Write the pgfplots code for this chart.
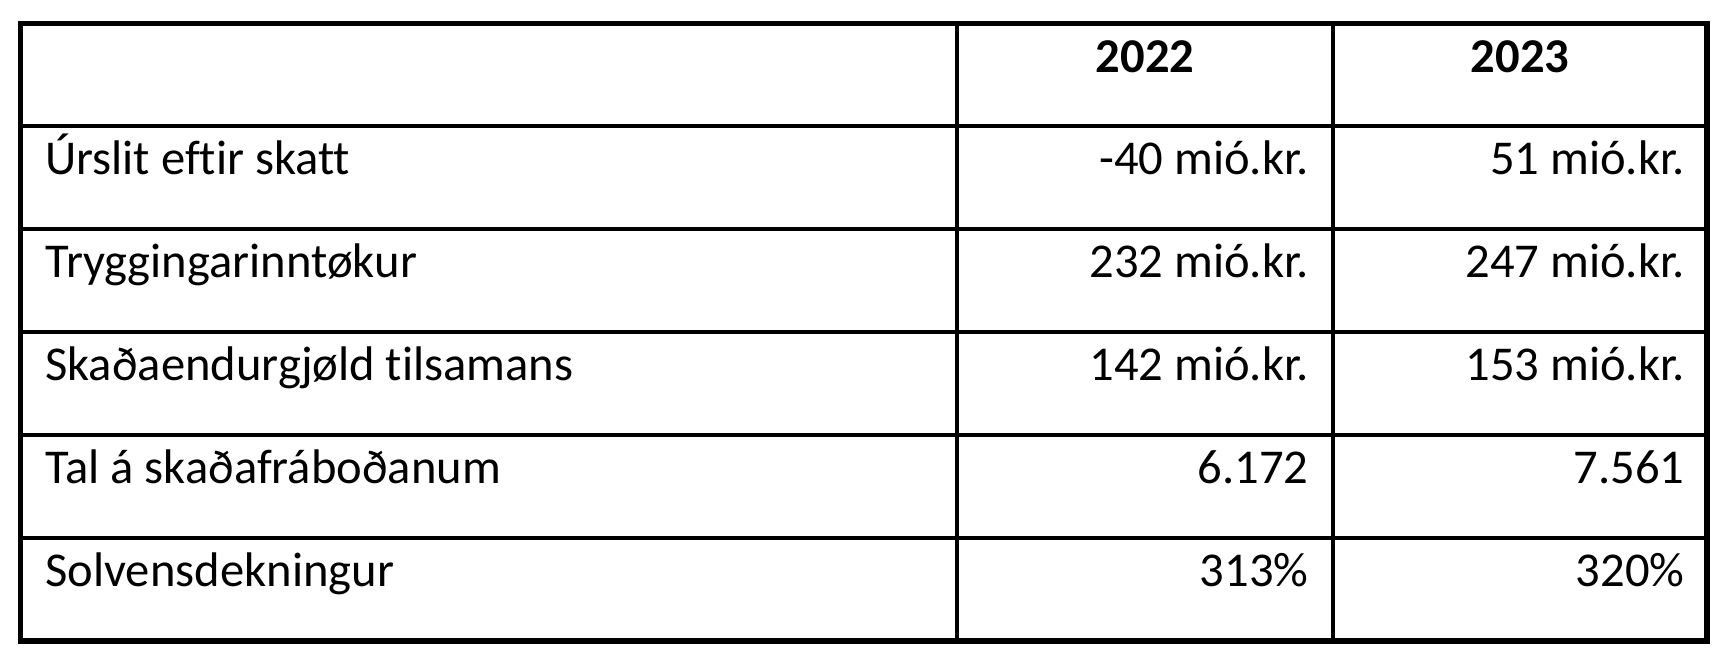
\documentclass[border=0pt]{standalone}
\usepackage{fontspec}
\setmainfont{Carlito}[Ligatures={NoCommon}]
\usepackage{pgfplots}
\pgfplotsset{compat=1.18}
\tikzset{txt/.style={font=\fontsize{24.3}{29}\selectfont, inner sep=0pt, text=black}}
\begin{document}
\begin{tikzpicture}
\begin{axis}[
    scale only axis,
    width=863pt, height=335pt,
    xmin=0, xmax=1726,
    ymin=0, ymax=670,
    y dir=reverse,
    hide axis,
    clip=false,
]
% page background (keeps the bounding box)
\addplot[fill=white, draw=none] coordinates {(0,0)(1726,0)(1726,670)(0,670)} \closedcycle;

% table rules
\addplot[black, line width=2.6pt, line join=miter, mark=none]
    coordinates {(20.5,23.5)(1707,23.5)(1707,641)(20.5,641)(20.5,23.5)(1707,23.5)};
\addplot[black, line width=2.4pt, mark=none] coordinates {(20.5,126)(1707,126)};
\addplot[black, line width=2.4pt, mark=none] coordinates {(20.5,229)(1707,229)};
\addplot[black, line width=2.4pt, mark=none] coordinates {(20.5,332)(1707,332)};
\addplot[black, line width=2.4pt, mark=none] coordinates {(20.5,435)(1707,435)};
\addplot[black, line width=2.4pt, mark=none] coordinates {(20.5,538)(1707,538)};
\addplot[black, line width=2.4pt, mark=none] coordinates {(957,23.5)(957,641)};
\addplot[black, line width=2.4pt, mark=none] coordinates {(1333,23.5)(1333,641)};

% header
\node[txt, anchor=base] at (axis cs:1145,72) {\bfseries 2022};
\node[txt, anchor=base] at (axis cs:1520,72) {\bfseries 2023};

% row labels
\node[txt, anchor=base west] at (axis cs:45,174.9) {Úrslit eftir skatt};
\node[txt, anchor=base west] at (axis cs:45,277.8) {Tryggingarinntøkur};
\node[txt, anchor=base west] at (axis cs:45,380.7) {Skaðaendurgjøld tilsamans};
\node[txt, anchor=base west] at (axis cs:45,483.6) {Tal á skaðafráboðanum};
\node[txt, anchor=base west] at (axis cs:45,586.5) {Solvensdekningur};

% 2022 values
\node[txt, anchor=base east] at (axis cs:1309,174.9) {-40 mió.kr.};
\node[txt, anchor=base east] at (axis cs:1309,277.8) {232 mió.kr.};
\node[txt, anchor=base east] at (axis cs:1309,380.7) {142 mió.kr.};
\node[txt, anchor=base east] at (axis cs:1309,483.6) {6.172};
\node[txt, anchor=base east] at (axis cs:1309,586.5) {313\%};

% 2023 values
\node[txt, anchor=base east] at (axis cs:1685,174.9) {51 mió.kr.};
\node[txt, anchor=base east] at (axis cs:1685,277.8) {247 mió.kr.};
\node[txt, anchor=base east] at (axis cs:1685,380.7) {153 mió.kr.};
\node[txt, anchor=base east] at (axis cs:1685,483.6) {7.561};
\node[txt, anchor=base east] at (axis cs:1685,586.5) {320\%};
\end{axis}
\end{tikzpicture}
\end{document}
